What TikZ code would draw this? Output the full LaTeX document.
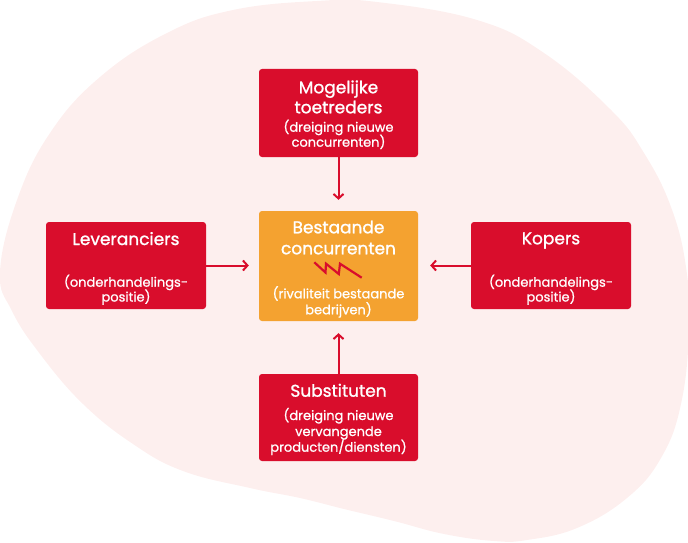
\documentclass[tikz,border=0pt]{standalone}
\usepackage{fontspec}
\setmainfont{Poppins}
\newfontfamily\titlefont{Poppins}[FakeBold=1.2]
\newfontfamily\subfont{Poppins}[FakeBold=0.9]
\usetikzlibrary{arrows.meta}
\definecolor{bg}{RGB}{253,239,238}
\definecolor{pred}{RGB}{217,13,44}
\definecolor{porange}{RGB}{244,162,48}
\begin{document}
\begin{tikzpicture}[x=1pt,y=-1pt,
  box/.style={rectangle, rounded corners=3pt, fill=pred, draw=none, inner sep=0pt},
  obox/.style={box, fill=porange},
  ttl/.style={text=white, font=\titlefont\fontsize{17}{20}\selectfont, anchor=base, inner sep=0pt},
  sub/.style={text=white, font=\subfont\fontsize{13}{15}\selectfont, anchor=base, inner sep=0pt},
  conn/.style={draw=pred, line width=2pt, -{Straight Barb[length=4.5pt,width=10pt]}}]
\useasboundingbox (0,0) rectangle (688,543);
\fill[bg] plot[smooth cycle, tension=0.7] coordinates {
 (0,272) (17,200) (50,133) (100,77) (167,33) (233,10) (317,1) (377,2) (477,20)
 (544,53) (611,110) (644,153) (671,207) (686,267) (689,330) (681,404) (661,458)
 (627,498) (577,528) (527,540) (494,541) (444,534) (394,521) (344,509) (300,498)
 (250,488) (183,471) (133,444) (83,404) (40,354) (12,311)};
% boxes
\node[box, minimum width=159pt, minimum height=88pt] (top) at (338.5,113) {};
\node[obox, minimum width=159pt, minimum height=110pt] (mid) at (338.5,266) {};
\node[box, minimum width=160pt, minimum height=87pt] (left) at (126,265.5) {};
\node[box, minimum width=160pt, minimum height=87pt] (right) at (551,265.5) {};
\node[box, minimum width=159pt, minimum height=87pt] (bot) at (338.5,417.5) {};
% arrows
\draw[conn, shorten >=11pt] (top) -- (mid);
\draw[conn, shorten >=12pt] (bot) -- (mid);
\draw[conn, shorten >=10pt] (left.east) -- (left.east -| mid.west);
\draw[conn, shorten >=12pt] (right.west) -- (right.west -| mid.east);
% top text
\node[ttl] (t1) at (338.5,93.3) {Mogelijke};
\node[ttl] (t2) at (338.5,113.3) {toetreders};
\node[sub] (t3) at (338.5,131.7) {(dreiging nieuwe};
\node[sub] (t4) at (338.5,146.7) {concurrenten)};
% mid text
\node[ttl] (m1) at (338.5,233.3) {Bestaande};
\node[ttl] (m2) at (338.5,254.3) {concurrenten};
\node[sub] (m3) at (338.5,298.3) {(rivaliteit bestaande};
\node[sub] (m4) at (338.5,314.3) {bedrijven)};
\draw[pred, line width=2.2pt, line join=miter]
  (314.3,262.3) -- (325.5,272.5) -- (326,263.7) -- (338.8,274) -- (340,263.7) -- (361.7,277.7);
% left text
\node[ttl] (l1) at (126,245) {Leveranciers};
\node[sub] (l2) at (126,286.7) {(onderhandelings-};
\node[sub] (l3) at (126,301.5) {positie)};
% right text
\node[ttl] (r1) at (551,244.3) {Kopers};
\node[sub] (r2) at (551,286.7) {(onderhandelings-};
\node[sub] (r3) at (551,301.5) {positie)};
% bottom text
\node[ttl] (b1) at (338.5,396.7) {Substituten};
\node[sub] (b2) at (338.5,420) {(dreiging nieuwe};
\node[sub] (b3) at (338.5,436) {vervangende};
\node[sub] (b4) at (338.5,451.7) {producten/diensten)};
\end{tikzpicture}
\end{document}
